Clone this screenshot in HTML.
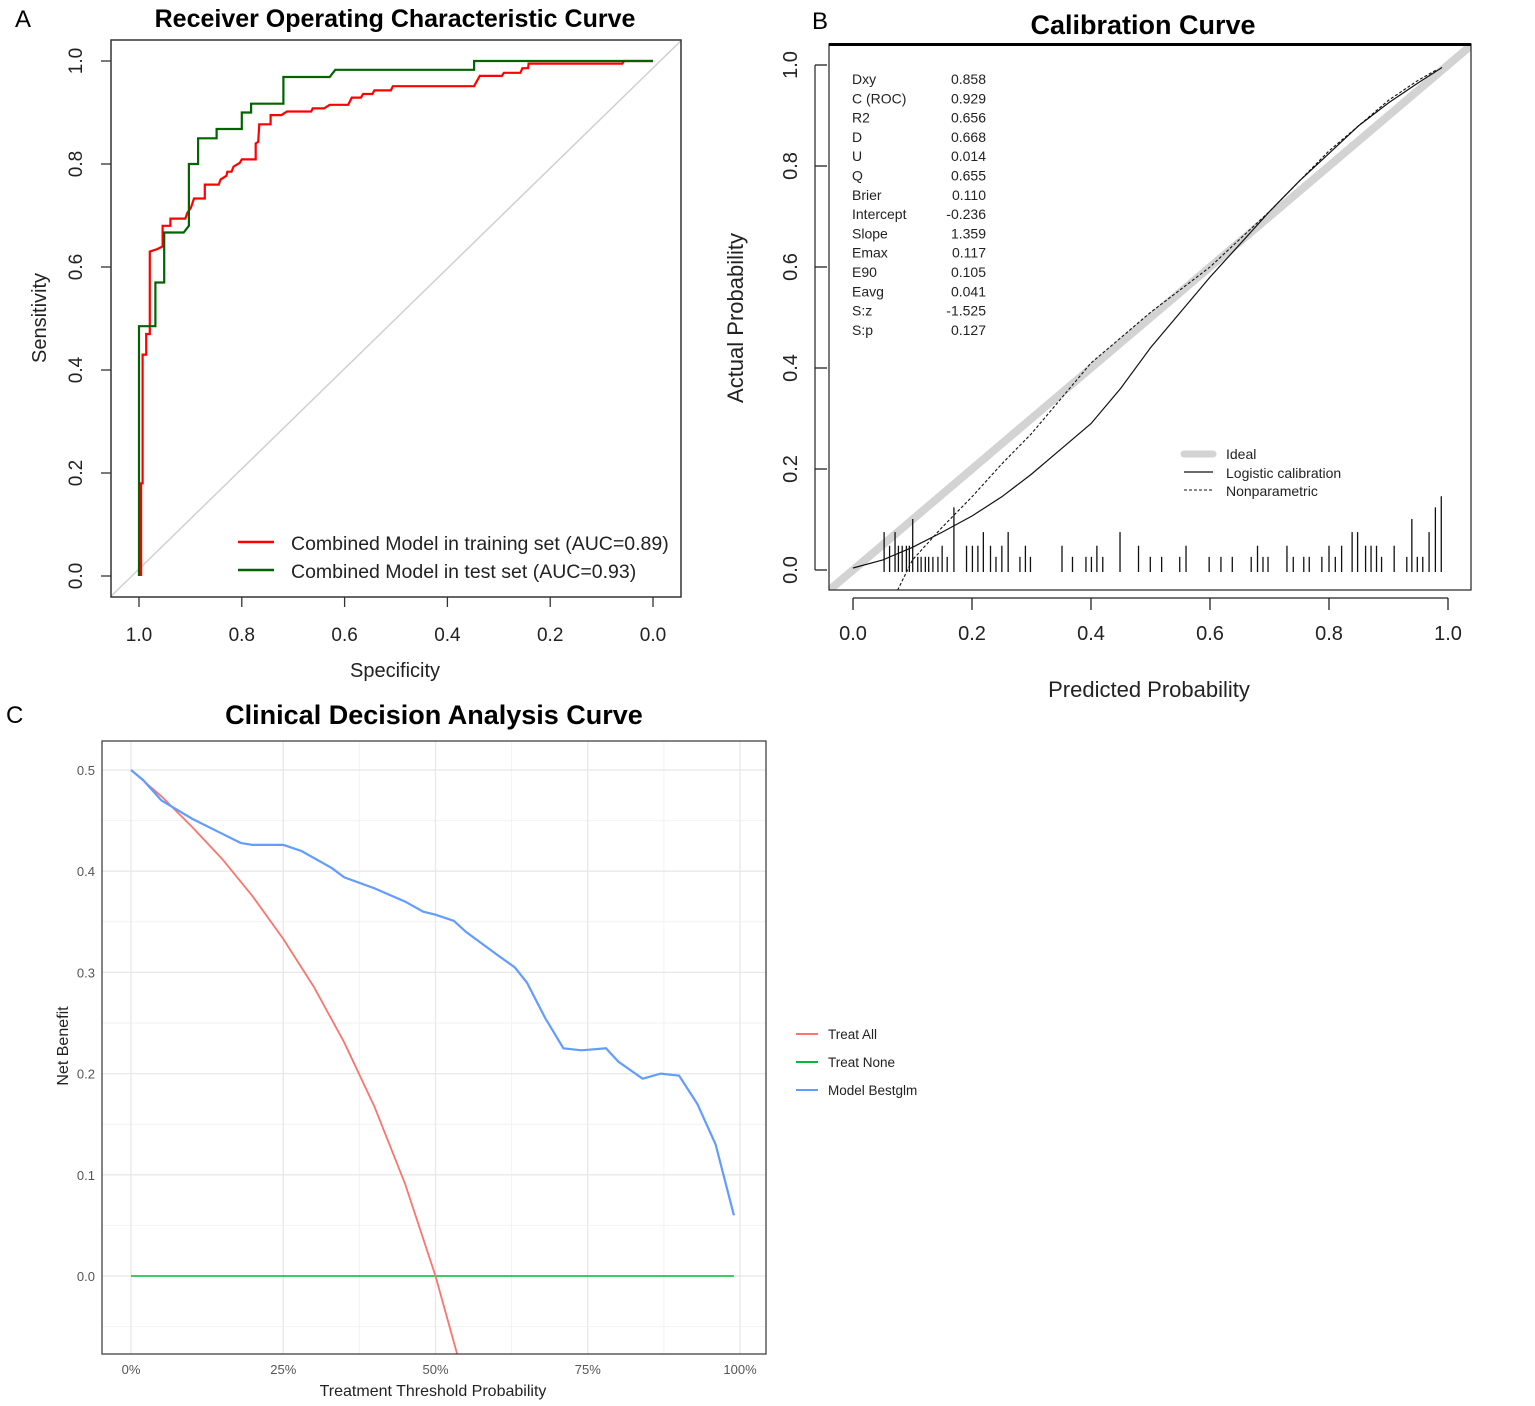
<!DOCTYPE html>
<html><head><meta charset="utf-8"><style>
html,body{margin:0;padding:0;background:#fff;}
svg{display:block;font-family:"Liberation Sans",sans-serif;}
</style></head><body>
<svg id="fig" width="1535" height="1406" viewBox="0 0 1535 1406" xmlns="http://www.w3.org/2000/svg">
<g id="A"></g>
<g id="B"></g>
<g id="C"></g>
</svg>
<script>
// ---- Panel A data (ROC) ----
const rocTrainFpr = [0.004,0.004,0.007,0.007,0.014,0.014,0.021,0.021,0.036,0.046,0.046,0.061,0.061,0.09,0.094,0.101,0.107,0.128,0.128,0.155,0.159,0.17,0.172,0.18,0.184,0.196,0.2,0.227,0.227,0.232,0.234,0.256,0.256,0.277,0.288,0.335,0.338,0.36,0.371,0.407,0.414,0.432,0.436,0.454,0.458,0.49,0.494,0.652,0.663,0.706,0.71,0.742,0.746,0.757,0.758,0.94,0.944,1.0];
const rocTrainSens = [0,0.18,0.18,0.43,0.43,0.47,0.47,0.63,0.635,0.64,0.68,0.68,0.694,0.694,0.705,0.715,0.733,0.733,0.76,0.76,0.77,0.777,0.785,0.785,0.795,0.802,0.809,0.809,0.84,0.843,0.877,0.877,0.895,0.895,0.902,0.902,0.908,0.908,0.915,0.915,0.929,0.929,0.936,0.936,0.943,0.943,0.951,0.951,0.971,0.971,0.977,0.977,0.986,0.986,0.995,0.995,1.0,1.0];
const rocTestFpr = [0,0,0.032,0.032,0.049,0.049,0.087,0.097,0.097,0.115,0.115,0.151,0.151,0.2,0.2,0.218,0.218,0.281,0.281,0.371,0.382,0.652,0.652,1.0];
const rocTestSens = [0,0.485,0.485,0.57,0.57,0.667,0.667,0.68,0.8,0.8,0.85,0.85,0.868,0.868,0.9,0.9,0.917,0.917,0.969,0.969,0.983,0.983,1.0,1.0];
const rocXTicks = [1.0,0.8,0.6,0.4,0.2,0.0];
const rocYTicks = [0.0,0.2,0.4,0.6,0.8,1.0];

// ---- Panel B data (calibration) ----
const calStatLabels = ["Dxy","C (ROC)","R2","D","U","Q","Brier","Intercept","Slope","Emax","E90","Eavg","S:z","S:p"];
const calStatValues = ["0.858","0.929","0.656","0.668","0.014","0.655","0.110","-0.236","1.359","0.117","0.105","0.041","-1.525","0.127"];
const logisticP = [0,0.05,0.1,0.15,0.2,0.25,0.3,0.35,0.4,0.45,0.5,0.55,0.6,0.65,0.7,0.75,0.8,0.85,0.9,0.95,0.99];
const logisticY = [0.004,0.02,0.045,0.075,0.107,0.145,0.19,0.24,0.29,0.36,0.44,0.51,0.58,0.645,0.71,0.77,0.825,0.88,0.925,0.965,0.995];
const nonparP = [0.075,0.1,0.15,0.2,0.25,0.3,0.35,0.4,0.45,0.5,0.55,0.6,0.65,0.7,0.75,0.8,0.85,0.9,0.95,0.98];
const nonparY = [-0.04,0.02,0.085,0.145,0.21,0.27,0.34,0.41,0.46,0.51,0.555,0.6,0.655,0.71,0.77,0.83,0.88,0.93,0.97,0.99];
const rugP = [152,165,178,186,195,205,212,220,232,240,250,258,268,280,290,302,318,348,362,375,388,405,418,432,447,475,488,500,575,600,632,645,658,672,713,757,785,812,855,870,925,953,980,1025,1040,1053,1065,1110,1125,1150,1163,1193,1210,1225,1240,1265,1278,1297,1310,1323,1335,1365,1395,1407,1420,1433,1448,1463,1477].map(v=>(v-78)/1415);
const rugH = [0.079,0.052,0.079,0.052,0.052,0.052,0.052,0.105,0.03,0.03,0.03,0.03,0.03,0.03,0.052,0.03,0.128,0.052,0.052,0.052,0.079,0.052,0.03,0.052,0.079,0.03,0.052,0.03,0.052,0.03,0.03,0.03,0.052,0.03,0.079,0.052,0.03,0.03,0.03,0.052,0.03,0.03,0.03,0.03,0.052,0.03,0.03,0.052,0.03,0.03,0.03,0.03,0.052,0.03,0.052,0.079,0.079,0.052,0.052,0.052,0.03,0.052,0.03,0.105,0.03,0.03,0.079,0.128,0.15];
const calTicks = [0.0,0.2,0.4,0.6,0.8,1.0];

// ---- Panel C data (DCA) ----
const dcaAllX = [0,0.05,0.1,0.15,0.2,0.25,0.3,0.35,0.4,0.45,0.5,0.54];
const dcaAllY = [0.5,0.474,0.444,0.412,0.375,0.333,0.286,0.231,0.167,0.091,0,-0.087];
const dcaNoneX = [0,0.99];
const dcaNoneY = [0,0];
const dcaModelX = [0,0.02,0.05,0.1,0.15,0.18,0.2,0.25,0.28,0.33,0.35,0.4,0.45,0.48,0.5,0.53,0.55,0.6,0.63,0.65,0.68,0.71,0.74,0.78,0.8,0.84,0.87,0.9,0.93,0.96,0.99];
const dcaModelY = [0.5,0.49,0.47,0.452,0.437,0.428,0.426,0.426,0.42,0.403,0.394,0.383,0.37,0.36,0.357,0.351,0.34,0.318,0.305,0.29,0.255,0.225,0.223,0.225,0.212,0.195,0.2,0.198,0.17,0.13,0.06];
const dcaXTicks = ["0%","25%","50%","75%","100%"];
const dcaXTickVals = [0,0.25,0.5,0.75,1];
const dcaYTicks = [0.0,0.1,0.2,0.3,0.4,0.5];

const NS="http://www.w3.org/2000/svg";
function mk(parent,tag,attrs,text){const e=document.createElementNS(NS,tag);for(const k in attrs)e.setAttribute(k,attrs[k]);if(text!==undefined)e.textContent=text;parent.appendChild(e);return e;}
function poly(xs,ys,fx,fy){return xs.map((v,i)=>fx(v).toFixed(1)+","+fy(ys[i]).toFixed(1)).join(" ");}

// ===== Panel A =====
(function(){
const g=document.getElementById('A');
const sx=s=>139+(1-s)*514, sy=v=>576-v*515;
let e;
e=mk(g,'text',{x:15,y:27,'font-size':24});e.textContent='A';

e=mk(g,'text',{x:395,y:27,'font-size':25,'font-weight':'bold','text-anchor':'middle'},'Receiver Operating Characteristic Curve');

mk(g,'clipPath',{id:'clipA'});
mk(document.getElementById('clipA'),'rect',{x:111,y:40,width:570,height:557});
e=mk(g,'line',{x1:sx(1.055),y1:sy(-0.04),x2:sx(-0.055),y2:sy(1.04),stroke:'#d0d0d0','stroke-width':1.5,'clip-path':'url(#clipA)'});

e=mk(g,'polyline',{points:poly(rocTrainFpr.map(f=>1-f),rocTrainSens,sx,sy),fill:'none',stroke:'#ff0000','stroke-width':2.2});

e=mk(g,'polyline',{points:poly(rocTestFpr.map(f=>1-f),rocTestSens,sx,sy),fill:'none',stroke:'#006400','stroke-width':2.2});

e=mk(g,'rect',{x:111,y:40,width:570,height:557,fill:'none',stroke:'#333','stroke-width':1.5});

rocXTicks.forEach(t=>{
 const l=mk(g,'line',{x1:sx(t),x2:sx(t),y1:597,y2:607,stroke:'#333','stroke-width':1.3});
 
 const tx=mk(g,'text',{x:sx(t),y:641,'font-size':19,'text-anchor':'middle',fill:'#222'},t.toFixed(1));
 
});
rocYTicks.forEach(t=>{
 const l=mk(g,'line',{x1:101,x2:111,y1:sy(t),y2:sy(t),stroke:'#333','stroke-width':1.3});
 
 const tx=mk(g,'text',{x:0,y:0,'font-size':19,'text-anchor':'middle',fill:'#222',transform:`translate(82,${sy(t)}) rotate(-90)`},t.toFixed(1));
 
});
e=mk(g,'text',{x:395,y:677,'font-size':20,'text-anchor':'middle',fill:'#222'},'Specificity');

e=mk(g,'text',{x:0,y:0,'font-size':20,'text-anchor':'middle',fill:'#222',transform:'translate(46,318) rotate(-90)'},'Sensitivity');

e=mk(g,'line',{x1:238,x2:274,y1:542,y2:542,stroke:'#ff0000','stroke-width':2.5});

e=mk(g,'text',{x:291,y:550,'font-size':19.5,fill:'#222'},'Combined Model in training set (AUC=0.89)');

e=mk(g,'line',{x1:238,x2:274,y1:570,y2:570,stroke:'#006400','stroke-width':2.5});

e=mk(g,'text',{x:291,y:578,'font-size':19.5,fill:'#222'},'Combined Model in test set (AUC=0.93)');

})();

// ===== Panel B =====
(function(){
const g=document.getElementById('B');
const sx=p=>853+p*595, sy=v=>570-v*505;
let e;
e=mk(g,'text',{x:812,y:29,'font-size':24});e.textContent='B';

e=mk(g,'text',{x:1143,y:34,'font-size':27,'font-weight':'bold','text-anchor':'middle'},'Calibration Curve');

mk(g,'clipPath',{id:'clipB'});
mk(document.getElementById('clipB'),'rect',{x:829,y:44,width:642,height:546});
e=mk(g,'line',{x1:sx(-0.05),y1:sy(-0.05),x2:sx(1.05),y2:sy(1.05),stroke:'#d3d3d3','stroke-width':8,'clip-path':'url(#clipB)'});

e=mk(g,'polyline',{points:poly(logisticP,logisticY,sx,sy),fill:'none',stroke:'#111','stroke-width':1.2});

e=mk(g,'polyline',{points:poly(nonparP,nonparY,sx,sy),fill:'none',stroke:'#111','stroke-width':1.1,'stroke-dasharray':'3,2','clip-path':'url(#clipB)'});

rugP.forEach((p,i)=>{
 const l=mk(g,'line',{x1:sx(p),x2:sx(p),y1:572,y2:572-rugH[i]*505,stroke:'#111','stroke-width':1.3});
 
});
e=mk(g,'rect',{x:829,y:44,width:642,height:546,fill:'none',stroke:'#222','stroke-width':1.2});

e=mk(g,'line',{x1:829,x2:1471,y1:44.5,y2:44.5,stroke:'#000','stroke-width':3});

calTicks.forEach(t=>{
 const l=mk(g,'line',{x1:sx(t),x2:sx(t),y1:598,y2:610,stroke:'#222','stroke-width':1.3});
 
 const tx=mk(g,'text',{x:sx(t),y:640,'font-size':20,'text-anchor':'middle',fill:'#222'},t.toFixed(1));
 
 const l2=mk(g,'line',{x1:815,x2:827,y1:sy(t),y2:sy(t),stroke:'#222','stroke-width':1.3});
 
 const ty=mk(g,'text',{x:0,y:0,'font-size':20,'text-anchor':'middle',fill:'#222',transform:`translate(797,${sy(t)}) rotate(-90)`},t.toFixed(1));
 
});
e=mk(g,'line',{x1:853,x2:1448,y1:598,y2:598,stroke:'#222','stroke-width':1.2});

e=mk(g,'line',{x1:815,x2:815,y1:sy(0),y2:sy(1),stroke:'#222','stroke-width':1.2});

e=mk(g,'text',{x:1149,y:697,'font-size':22,'text-anchor':'middle',fill:'#222'},'Predicted Probability');

e=mk(g,'text',{x:0,y:0,'font-size':22,'text-anchor':'middle',fill:'#222',transform:'translate(743,318) rotate(-90)'},'Actual Probability');

calStatLabels.forEach((s,i)=>{
 const y=84+i*19.3;
 const a=mk(g,'text',{x:852,y:y,'font-size':14,fill:'#222'},s);
 
 const b=mk(g,'text',{x:986,y:y,'font-size':14,fill:'#222','text-anchor':'end'},calStatValues[i]);
 
});
e=mk(g,'line',{x1:1184,x2:1213,y1:454,y2:454,stroke:'#d3d3d3','stroke-width':7,'stroke-linecap':'round'});

e=mk(g,'text',{x:1226,y:459,'font-size':14,fill:'#222'},'Ideal');

e=mk(g,'line',{x1:1184,x2:1213,y1:472,y2:472,stroke:'#111','stroke-width':1.2});

e=mk(g,'text',{x:1226,y:478,'font-size':14,fill:'#222'},'Logistic calibration');

e=mk(g,'line',{x1:1184,x2:1213,y1:490,y2:490,stroke:'#111','stroke-width':1.1,'stroke-dasharray':'3,2'});

e=mk(g,'text',{x:1226,y:496,'font-size':14,fill:'#222'},'Nonparametric');

})();

// ===== Panel C =====
(function(){
const g=document.getElementById('C');
const sx=p=>131+p*609, sy=v=>1276-v*1012;
let e;
e=mk(g,'text',{x:6,y:723,'font-size':24});e.textContent='C';

e=mk(g,'text',{x:434,y:724,'font-size':27,'font-weight':'bold','text-anchor':'middle'},'Clinical Decision Analysis Curve');

mk(g,'clipPath',{id:'clipC'});
mk(document.getElementById('clipC'),'rect',{x:102,y:741,width:664,height:613});
[-0.05,0.05,0.15,0.25,0.35,0.45].forEach(t=>{const l=mk(g,'line',{x1:102,x2:766,y1:sy(t),y2:sy(t),stroke:'#f2f2f2','stroke-width':1});});
[0.375,0.625,0.875].forEach(t=>{const l=mk(g,'line',{x1:sx(t),x2:sx(t),y1:741,y2:1354,stroke:'#f2f2f2','stroke-width':1});});
dcaYTicks.forEach(t=>{const l=mk(g,'line',{x1:102,x2:766,y1:sy(t),y2:sy(t),stroke:'#e8e8e8','stroke-width':1.3});});
dcaXTickVals.forEach(t=>{const l=mk(g,'line',{x1:sx(t),x2:sx(t),y1:741,y2:1354,stroke:'#e8e8e8','stroke-width':1.3});});
e=mk(g,'polyline',{points:poly(dcaNoneX,dcaNoneY,sx,sy),fill:'none',stroke:'#00ba38','stroke-width':1.6});

e=mk(g,'polyline',{points:poly(dcaAllX,dcaAllY,sx,sy),fill:'none',stroke:'#f8766d','stroke-width':1.8,'clip-path':'url(#clipC)'});

e=mk(g,'polyline',{points:poly(dcaModelX,dcaModelY,sx,sy),fill:'none',stroke:'#619cff','stroke-width':2.2});

e=mk(g,'rect',{x:102,y:741,width:664,height:613,fill:'none',stroke:'#333','stroke-width':1.2});

dcaXTickVals.forEach((t,i)=>{
 const tx=mk(g,'text',{x:sx(t),y:1374,'font-size':13,'text-anchor':'middle',fill:'#555'},dcaXTicks[i]);
 
});
dcaYTicks.forEach(t=>{
 const tx=mk(g,'text',{x:95,y:sy(t)+5,'font-size':13,'text-anchor':'end',fill:'#555'},t.toFixed(1));
 
});
e=mk(g,'text',{x:433,y:1396,'font-size':16,'text-anchor':'middle',fill:'#222'},'Treatment Threshold Probability');

e=mk(g,'text',{x:0,y:0,'font-size':16,'text-anchor':'middle',fill:'#222',transform:'translate(68,1046) rotate(-90)'},'Net Benefit');

const leg=[['Treat All','#f8766d',1034],['Treat None','#00ba38',1062],['Model Bestglm','#619cff',1090]];
leg.forEach(L=>{
 const l=mk(g,'line',{x1:796,x2:818,y1:L[2],y2:L[2],stroke:L[1],'stroke-width':2});
 
 const t=mk(g,'text',{x:828,y:L[2]+5,'font-size':13.5,fill:'#222'},L[0]);
 
});
})();
</script>
</body></html>
